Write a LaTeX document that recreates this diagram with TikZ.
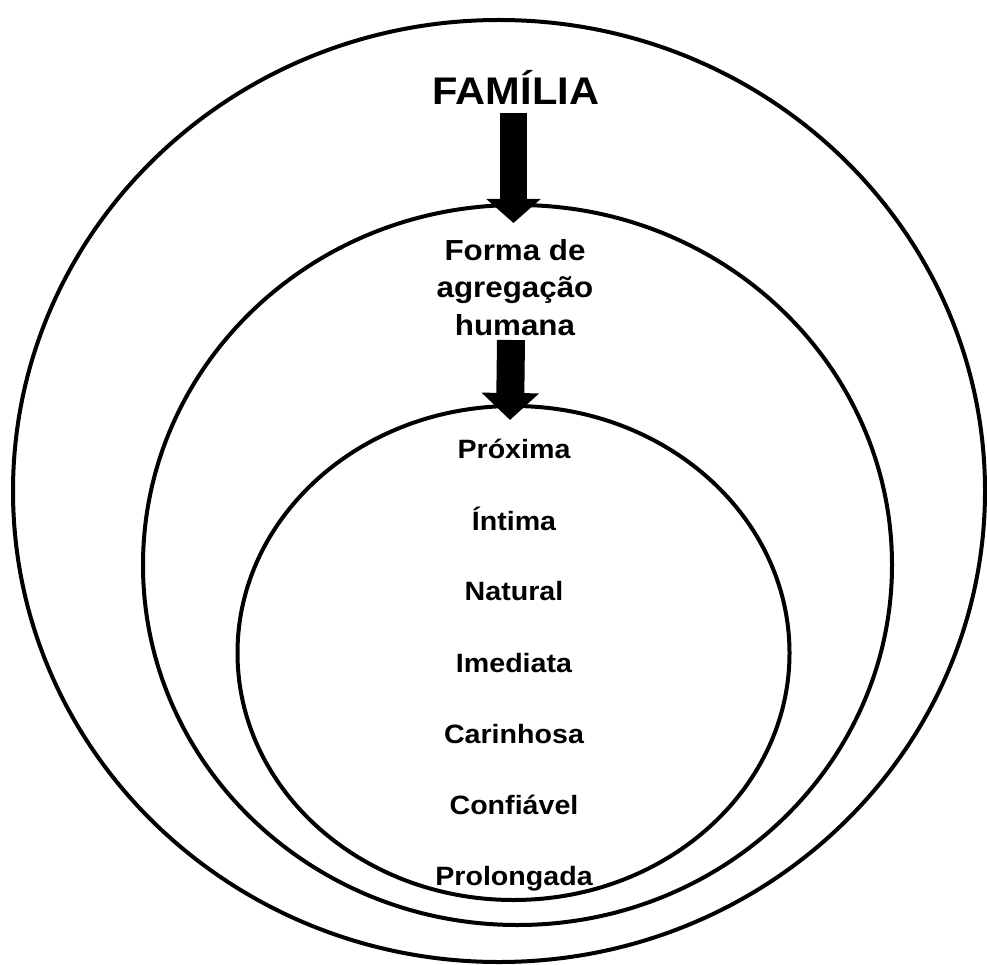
\documentclass[tikz,border=0pt]{standalone}
\usepackage{fontspec}
\setmainfont{Liberation Sans}[FakeStretch=1.08]
\usetikzlibrary{arrows.meta}
\begin{document}
\begin{tikzpicture}[x=1pt,y=-1pt,
  ring/.style={draw=black, line width=4pt},
  lbl/.style={font=\bfseries\fontsize{26.5}{30}\selectfont, inner sep=0pt, anchor=base},
  mid/.style={font=\bfseries\fontsize{29}{34}\selectfont, inner sep=0pt, anchor=base},
  blockarrow/.style={line width=27pt, line cap=butt,
    -{Triangle[width=53pt,length=24pt]}}]
\useasboundingbox (0,0) rectangle (987,965);
% rings
\draw[ring] (499,491) ellipse [x radius=486, y radius=471];
\draw[ring] (517.5,565) ellipse [x radius=374.5, y radius=360];
\draw[ring] (513.5,653) ellipse [x radius=276, y radius=247];
% title
\node[font=\bfseries\fontsize{38.5}{44}\selectfont, inner sep=0pt, anchor=base] (fam) at (516,105) {FAMÍLIA};
% middle text
\node[mid] (forma1) at (515,261) {Forma de};
\node[mid] (forma2) at (515,298) {agregação};
\node[mid] (forma3) at (515,335) {humana};
% inner list
\node[lbl] (p1) at (514,458) {Próxima};
\node[lbl] (p2) at (514,530) {Íntima};
\node[lbl] (p3) at (514,600) {Natural};
\node[lbl] (p4) at (514,672) {Imediata};
\node[lbl] (p5) at (514,743) {Carinhosa};
\node[lbl] (p6) at (514,814) {Confiável};
\node[lbl] (p7) at (514,885) {Prolongada};
% arrows
\coordinate (a1s) at (513.5,113);
\coordinate (a1e) at (513.5,223);
\coordinate (a2s) at (511,340);
\coordinate (a2e) at (510,420);
\draw[blockarrow] (a1s) -- (a1e);
\draw[blockarrow, line width=28pt, -{Triangle[width=56pt,length=27pt]}] (a2s) -- (a2e);
\end{tikzpicture}
\end{document}
